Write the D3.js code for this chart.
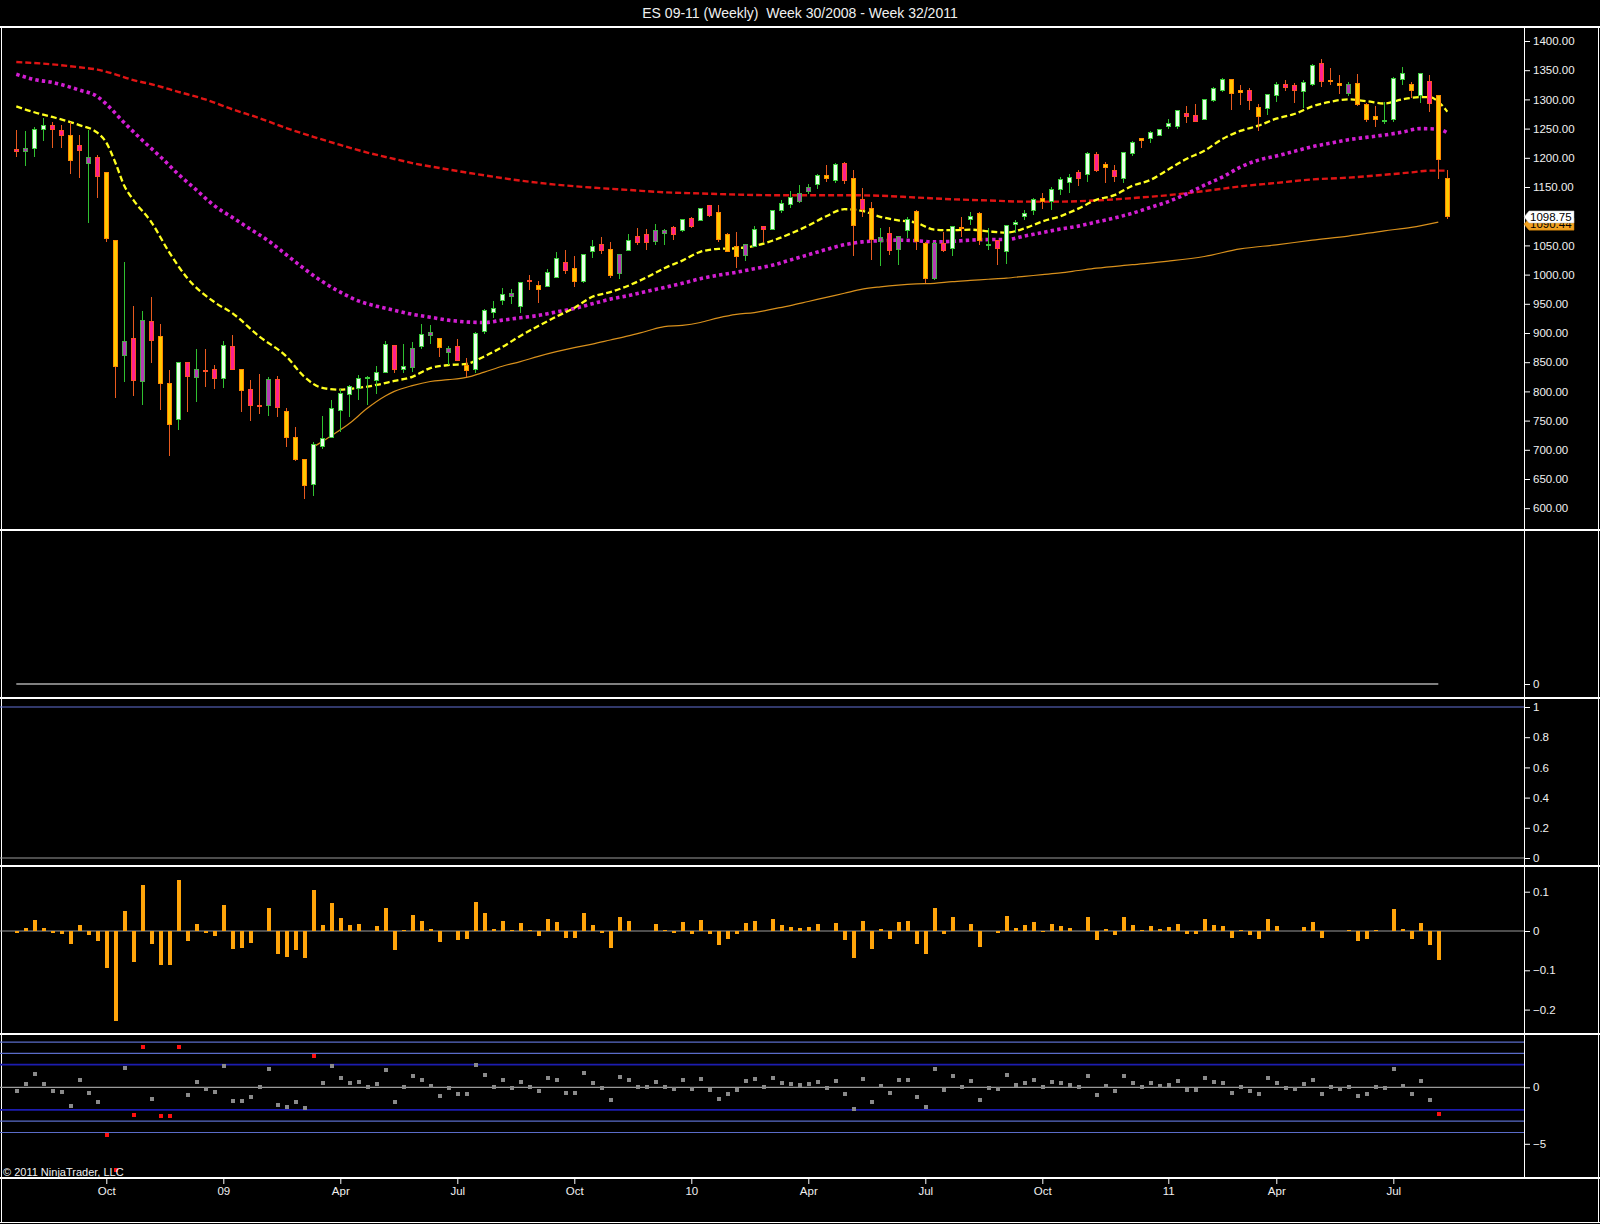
<!DOCTYPE html>
<html>
<head>
<meta charset="utf-8">
<script src="https://cdn.jsdelivr.net/npm/d3@7"></script>
<style>
  body { margin: 0; background: #000; }
  text { font-family: "Liberation Sans", Arial, sans-serif; }
</style>
</head>
<body>
<div id="chart"></div>
<script>
// ES 09-11 weekly chart
var svgWidth = 1600;
var svgHeight = 1224;

// weekly bars, index 0 = week 30/2008
var opens = [1215,1210,1216,1248,1256,1247,1239,1221,1190,1200,
  1175,1058,861,891,817,919,894,814,752,850,
  823,836,838,822,877,838,804,776,776,821,
  766,721,684,641,705,721,768,795,805,822,
  818,833,878,837,841,877,896,890,867,877,
  845,838,902,935,956,962,946,990,981,979,
  995,1021,1011,989,1039,1052,1043,1002,1041,1066,
  1069,1056,1071,1081,1075,1096,1092,1119,1107,1069,
  1048,1032,1048,1082,1078,1109,1120,1126,1142,1155,
  1169,1161,1191,1165,1129,1114,1056,1070,1043,1075,
  1108,1054,993,1054,1045,1081,1094,1105,1050,1058,
  1039,1086,1100,1109,1131,1125,1146,1157,1174,1172,
  1205,1188,1179,1165,1207,1233,1233,1238,1253,1253,
  1276,1272,1266,1298,1316,1334,1316,1316,1286,1284,
  1306,1326,1323,1313,1326,1361,1333,1328,1310,1328,
  1292,1270,1263,1265,1334,1325,1306,1330,1306,1165];
var highs = [1248,1246,1253,1269,1262,1256,1262,1239,1248,1205,
  1176,1058,1021,946,938,962,915,837,850,850,
  873,873,845,887,897,838,820,829,825,826,
  771,739,684,714,758,786,804,811,828,826,
  843,887,879,881,884,915,914,890,878,890,
  857,902,941,954,977,975,987,1000,989,1009,
  1038,1042,1032,1035,1059,1064,1055,1036,1070,1079,
  1078,1087,1078,1083,1095,1099,1114,1119,1119,1072,
  1073,1051,1083,1082,1111,1127,1143,1153,1155,1172,
  1188,1191,1193,1179,1148,1125,1080,1082,1066,1098,
  1111,1056,1056,1073,1083,1098,1108,1108,1079,1058,
  1085,1094,1111,1131,1140,1150,1167,1172,1179,1210,
  1210,1192,1188,1210,1228,1233,1246,1249,1266,1281,
  1288,1292,1300,1321,1336,1334,1325,1319,1292,1310,
  1329,1333,1328,1334,1361,1370,1353,1342,1329,1343,
  1293,1289,1296,1339,1356,1330,1345,1342,1308,1179];
var lows = [1201,1186,1202,1229,1216,1217,1172,1166,1089,1132,
  1056,788,816,792,777,848,768,690,734,765,
  781,808,804,805,837,765,749,761,758,757,
  704,681,616,621,701,721,731,757,786,777,
  795,833,832,831,833,872,881,859,845,853,
  825,831,898,925,948,950,935,974,952,979,
  995,1001,979,986,1029,1036,995,992,1041,1051,
  1042,1051,1051,1059,1073,1080,1091,1099,1056,1039,
  1012,1023,1048,1055,1076,1105,1114,1123,1138,1147,
  1159,1156,1155,1031,1098,1025,1014,1034,1016,1062,
  1042,985,991,1039,1032,1065,1085,1051,1042,1016,
  1019,1071,1094,1102,1112,1111,1136,1140,1152,1159,
  1176,1156,1159,1157,1203,1217,1226,1238,1249,1249,
  1259,1262,1264,1296,1313,1282,1290,1282,1246,1273,
  1296,1315,1294,1286,1323,1321,1325,1310,1305,1289,
  1262,1253,1258,1262,1325,1302,1293,1279,1163,1095];
var closes = [1210,1216,1249,1256,1249,1238,1195,1212,1201,1168,
  1061,842,886,818,921,888,814,744,849,825,
  838,835,822,879,837,801,776,775,821,772,
  721,684,639,709,720,771,797,809,822,823,
  833,881,838,842,874,898,901,876,873,853,
  835,899,939,942,966,968,987,989,975,1004,
  1027,1007,988,1035,1048,1042,998,1034,1058,1055,
  1055,1075,1076,1068,1094,1083,1114,1102,1060,1039,
  1031,1051,1078,1078,1109,1122,1132,1139,1150,1170,
  1165,1189,1161,1084,1112,1060,1064,1041,1066,1094,
  1056,994,1054,1042,1082,1079,1100,1058,1051,1044,
  1084,1090,1105,1129,1126,1146,1162,1167,1165,1208,
  1179,1184,1168,1209,1227,1229,1244,1249,1259,1281,
  1270,1262,1299,1319,1334,1310,1311,1298,1270,1308,
  1325,1320,1315,1329,1358,1330,1330,1324,1326,1292,
  1265,1266,1264,1336,1344,1315,1344,1293,1197,1098.75];
// u = up white, m = up magenta, d = down yellow, p = down pink
var barColors = ("pmuuppdpmp" + "ddmpmpddup" + "mppupdppmp" + "ddduuuuuuu" +
  "uupumumdmp" + "duuuumupdu" + "upduupdmup" + "pmmpupupdd" +
  "dmupuuummu" + "dupdpdmpmu" + "ddmpududup" + "uuuuduuupu" +
  "pdpuuduuuu" + "ppuuuddpdu" + "uppuupddmd" + "dduuudupdd").split("");

// moving averages: [bar index, price]
var fastMA = [[0,1288],[2,1278],[4,1270],[7,1256],[9,1243],[10,1226],[11,1192],[12,1152],[13,1128],
  [15,1090],[17,1038],[19,994],[22,953],[24,934],[27,894],[30,860],[32,825],[34,806],[36,803],
  [38,806],[40,811],[42,818],[44,825],[46,840],[48,845],[50,847],[52,860],[54,876],[56,895],
  [58,912],[60,928],[62,943],[64,962],[66,970],[68,981],[70,995],[72,1011],[74,1024],[76,1039],
  [78,1044],[80,1045],[82,1049],[84,1058],[86,1070],[88,1084],[90,1100],[92,1112],[94,1109],
  [96,1099],[98,1093],[100,1089],[102,1077],[104,1076],[106,1077],[108,1074],[110,1072],
  [112,1079],[114,1091],[116,1100],[118,1113],[120,1128],[122,1136],[124,1152],[126,1162],
  [128,1180],[130,1198],[132,1212],[134,1232],[136,1246],[138,1255],[140,1267],[142,1275],
  [144,1288],[146,1296],[148,1300],[150,1297],[152,1293],[154,1300],[156,1304],[157,1304],
  [158,1296],[159,1279]];
var midMA = [[0,1343],[2,1334],[4,1329],[7,1316],[9,1305],[10,1292],[12,1260],[14,1230],[16,1202],
  [18,1172],[20,1145],[22,1118],[24,1098],[26,1078],[28,1058],[30,1034],[32,1010],[34,988],
  [36,970],[38,955],[40,946],[42,939],[44,932],[46,927],[48,922],[50,919],[52,918],[54,922],
  [56,926],[58,930],[60,936],[62,942],[64,950],[66,958],[68,964],[70,971],[72,978],[74,985],
  [76,993],[78,999],[80,1004],[82,1010],[84,1016],[86,1025],[88,1034],[90,1043],[92,1051],
  [94,1056],[96,1058],[98,1059],[100,1058],[102,1056],[104,1057],[106,1059],[108,1060],
  [110,1060],[112,1066],[114,1072],[116,1078],[118,1083],[120,1090],[122,1097],[124,1105],
  [126,1115],[128,1125],[130,1138],[132,1153],[134,1167],[136,1184],[138,1196],[140,1203],
  [142,1211],[144,1219],[146,1225],[148,1231],[150,1235],[152,1239],[154,1244],[156,1250],
  [158,1249],[159,1243]];
var slowMA = [[0,1364],[4,1360],[7,1355],[9,1351],[11,1343],[13,1333],[15,1326],[18,1313],[21,1300],
  [24,1283],[27,1268],[30,1251],[33,1236],[36,1222],[39,1209],[42,1198],[44,1191],[48,1180],
  [52,1170],[56,1161],[60,1154],[64,1149],[68,1145],[72,1141],[76,1139],[80,1137],[84,1136],
  [88,1136],[92,1136],[96,1135],[100,1132],[104,1129],[108,1127],[112,1125],[116,1125],
  [120,1127],[124,1131],[128,1136],[132,1143],[136,1151],[140,1157],[144,1163],[148,1166],
  [152,1171],[155,1175],[157,1178],[159,1178]];
var baseMA = [[33,705],[34,714],[35,724],[37,745],[39,771],[41,792],[42,800],[44,810],[46,817],
  [48,820],[50,824],[52,833],[54,843],[56,851],[58,860],[60,868],[62,875],[64,881],[66,888],
  [68,895],[70,903],[72,911],[74,913],[76,918],[78,926],[80,932],[82,935],[84,941],[86,947],
  [88,954],[90,961],[92,968],[94,975],[96,979],[98,982],[100,984],[102,985],[104,988],
  [106,990],[108,992],[110,994],[112,997],[114,1000],[116,1003],[118,1007],[120,1011],
  [124,1017],[128,1023],[132,1031],[136,1044],[140,1051],[144,1059],[148,1066],[152,1075],
  [155,1081],[158,1090]];

// weekly change panel
var weeklyChange = [-0.004,0.008,0.028,0.008,-0.004,-0.007,-0.033,0.015,-0.010,-0.025,
  -0.094,-0.228,0.051,-0.079,0.118,-0.033,-0.087,-0.087,0.131,-0.025,
  0.018,-0.004,-0.013,0.067,-0.046,-0.044,-0.030,0.000,0.059,-0.059,
  -0.066,-0.049,-0.069,0.105,0.015,0.072,0.033,0.015,0.018,0.001,
  0.013,0.059,-0.049,0.003,0.041,0.026,0.005,-0.028,0.000,-0.023,
  -0.021,0.074,0.047,0.005,0.026,0.003,0.021,0.003,-0.013,0.031,
  0.023,-0.017,-0.017,0.046,0.015,-0.004,-0.043,0.036,0.026,-0.001,
  0.000,0.018,0.003,-0.004,0.023,-0.007,0.028,-0.007,-0.036,-0.021,
  -0.007,0.021,0.026,0.000,0.031,0.015,0.010,0.008,0.010,0.018,
  -0.001,0.021,-0.023,-0.068,0.026,-0.045,0.005,-0.021,0.023,0.026,
  -0.033,-0.059,0.059,-0.007,0.036,0.000,0.018,-0.041,0.000,-0.004,
  0.038,0.008,0.015,0.023,-0.003,0.018,0.013,0.008,-0.001,0.036,
  -0.022,0.005,-0.009,0.036,0.015,0.003,0.013,0.005,0.010,0.018,
  -0.007,-0.007,0.031,0.015,0.013,-0.017,0.003,-0.009,-0.020,0.031,
  0.013,-0.001,-0.001,0.010,0.023,-0.017,0.000,0.000,0.003,-0.025,
  -0.020,0.003,0.000,0.056,0.005,-0.020,0.021,-0.035,-0.074];

// standardised change panel
var zScores = [-0.3,0.27,1.22,0.27,-0.3,-0.39,-1.63,0.68,-0.48,-1.28,
  -4.2,-7.3,1.67,-2.44,3.54,-1.0,-2.53,-2.53,3.54,-0.65,
  0.51,-0.12,-0.39,1.85,-1.19,-1.19,-0.83,0.06,1.58,-1.54,
  -1.72,-1.28,-1.81,2.74,0.42,1.85,0.86,0.42,0.51,0.06,
  0.33,1.49,-1.28,0.06,1.04,0.68,0.15,-0.74,-0.03,-0.56,
  -0.56,1.94,1.13,0.06,0.68,-0.03,0.51,0.06,-0.36,0.80,
  0.63,-0.54,-0.54,1.25,0.36,-0.09,-1.16,0.89,0.63,0,
  0,0.45,0,-0.18,0.63,-0.18,0.71,-0.27,-1.07,-0.63,
  -0.27,0.54,0.71,0,0.80,0.36,0.27,0.18,0.27,0.45,
  -0.09,0.54,-0.63,-1.96,0.71,-1.34,0.09,-0.54,0.63,0.63,
  -0.89,-1.70,1.61,-0.27,0.98,0,0.54,-1.16,-0.09,-0.18,
  1.07,0.18,0.36,0.63,0,0.45,0.36,0.18,0,0.98,
  -0.71,0.09,-0.36,0.98,0.36,0,0.36,0.09,0.18,0.54,
  -0.27,-0.27,0.80,0.45,0.36,-0.54,0,-0.36,-0.63,0.80,
  0.36,-0.09,-0.18,0.27,0.63,-0.63,0,-0.18,0,-0.80,
  -0.63,0,-0.09,1.61,0.09,-0.63,0.54,-1.16,-2.32];
var bandLevels = [4, 3, 2, -2, -3, -4];

var xTickIdx = [10, 23, 36, 49, 62, 75, 88, 101, 114, 128, 140, 153];
var xTickLabels = ["Oct", "09", "Apr", "Jul", "Oct", "10", "Apr", "Jul", "Oct", "11", "Apr", "Jul"];
var priceTicks = d3.range(600, 1401, 50);
var lastPrice = 1098.75;

var axisX = 1524;

var svg = d3.select("#chart")
  .append("svg")
  .attr("width", svgWidth)
  .attr("height", svgHeight)
  .style("background", "#000");

// scales
var xScale = d3.scaleLinear().domain([0, 159]).range([16.3, 1447.3]);
var yPrice = d3.scaleLinear().domain([600, 1400]).range([508.2, 41]);
var yPanel2 = d3.scaleLinear().domain([0, 1]).range([684, 600]);
var yPanel3 = d3.scaleLinear().domain([0, 1]).range([858, 707]);
var yChange = d3.scaleLinear().domain([-0.2, 0.1]).range([1009.6, 891.7]);
var yZ = d3.scaleLinear().domain([-5, 0]).range([1143.8, 1087.3]);

// title
svg.append("text")
  .attr("x", 800)
  .attr("y", 18)
  .attr("text-anchor", "middle")
  .attr("fill", "#f0f0f0")
  .style("font-size", "14px")
  .style("white-space", "pre")
  .text("ES 09-11 (Weekly)  Week 30/2008 - Week 32/2011");

// panel frames
var frame = svg.append("g").attr("stroke", "#ffffff").attr("shape-rendering", "crispEdges");
[27, 530, 698, 866, 1034, 1178].forEach(function (y) {
  frame.append("line").attr("x1", 0).attr("x2", svgWidth).attr("y1", y).attr("y2", y).attr("stroke-width", 1.5);
});
frame.append("line").attr("x1", 1).attr("x2", 1).attr("y1", 27).attr("y2", 1222);
frame.append("line").attr("x1", 1598).attr("x2", 1598).attr("y1", 27).attr("y2", 1222);
frame.append("line").attr("x1", 0).attr("x2", svgWidth).attr("y1", 1222).attr("y2", 1222);
frame.append("line").attr("x1", axisX).attr("x2", axisX).attr("y1", 27).attr("y2", 1178);

// ---------- price panel ----------
var priceGroup = svg.append("g");

function maLine(points) {
  return d3.line()
    .x(function (d) { return xScale(d[0]); })
    .y(function (d) { return yPrice(d[1]); })
    .curve(d3.curveMonotoneX)(points);
}

priceGroup.append("path")
  .attr("d", maLine(baseMA))
  .attr("fill", "none")
  .attr("stroke", "#d8901c")
  .attr("stroke-width", 1.2);

priceGroup.append("path")
  .attr("d", maLine(slowMA))
  .attr("fill", "none")
  .attr("stroke", "#e01414")
  .attr("stroke-width", 2.4)
  .attr("stroke-dasharray", "6,3");

priceGroup.append("path")
  .attr("d", maLine(midMA))
  .attr("fill", "none")
  .attr("stroke", "#d21ed2")
  .attr("stroke-width", 3.6)
  .attr("stroke-dasharray", "3.4,3.2");

priceGroup.append("path")
  .attr("d", maLine(fastMA))
  .attr("fill", "none")
  .attr("stroke", "#ffff1e")
  .attr("stroke-width", 2.3)
  .attr("stroke-dasharray", "6,3");

var bodyFill = { u: "#eaffea", m: "#b43cb4", d: "#ffc800", p: "#ff2090" };
var bodyStroke = { u: "#3ccc3c", m: "#4caa4c", d: "#ff8a00", p: "#ff5028" };
var wickStroke = { u: "#30c030", m: "#30c030", d: "#e85a1e", p: "#e85a1e" };

var candles = priceGroup.selectAll("g.candle")
  .data(d3.range(opens.length))
  .enter()
  .append("g")
  .attr("class", "candle")
  .attr("shape-rendering", "crispEdges");

candles.append("line")
  .attr("x1", function (i) { return Math.round(xScale(i)) + 0.5; })
  .attr("x2", function (i) { return Math.round(xScale(i)) + 0.5; })
  .attr("y1", function (i) { return yPrice(highs[i]); })
  .attr("y2", function (i) { return yPrice(lows[i]); })
  .attr("stroke", function (i) { return wickStroke[barColors[i]]; })
  .attr("stroke-width", 1);

candles.append("rect")
  .attr("x", function (i) { return Math.round(xScale(i)) - 1.5; })
  .attr("width", 4)
  .attr("y", function (i) { return yPrice(Math.max(opens[i], closes[i])); })
  .attr("height", function (i) { return Math.max(1, Math.abs(yPrice(opens[i]) - yPrice(closes[i]))); })
  .attr("fill", function (i) { return bodyFill[barColors[i]]; })
  .attr("stroke", function (i) { return bodyStroke[barColors[i]]; })
  .attr("stroke-width", 1);

// price axis
svg.append("g")
  .attr("transform", `translate(${axisX},0)`)
  .call(d3.axisRight(yPrice).tickValues(priceTicks).tickSize(6).tickPadding(3).tickFormat(d3.format(".2f")));

// last price markers (the orange one sits partly under the white one, as on the original)
var baseLast = baseMA[baseMA.length - 1][1];
function priceMarker(value, fill, label) {
  var y = yPrice(value);
  var g = svg.append("g");
  g.append("path")
    .attr("d", `M${axisX},${y} L${axisX + 5},${y - 6} L${axisX + 50},${y - 6} L${axisX + 50},${y + 6} L${axisX + 5},${y + 6} Z`)
    .attr("fill", fill)
    .attr("stroke", fill === "#ffffff" ? "#bbbbbb" : "#d08000")
    .attr("stroke-width", 0.5);
  g.append("text")
    .attr("x", axisX + 6)
    .attr("y", y + 4)
    .attr("fill", "#000")
    .style("font-size", "11.5px")
    .text(label);
}
priceMarker(baseLast - 3.6, "#f0a020", d3.format(".2f")(baseLast + 0.44));
priceMarker(lastPrice, "#ffffff", d3.format(".2f")(lastPrice));

// ---------- panel 2 ----------
svg.append("line")
  .attr("x1", xScale(0))
  .attr("x2", xScale(158))
  .attr("y1", yPanel2(0))
  .attr("y2", yPanel2(0))
  .attr("stroke", "#ffffff")
  .attr("stroke-width", 1.2);
svg.append("g")
  .attr("transform", `translate(${axisX},0)`)
  .call(d3.axisRight(yPanel2).tickValues([0]).tickSize(6).tickPadding(3).tickFormat(d3.format("d")));

// ---------- panel 3 ----------
svg.append("line")
  .attr("x1", 0).attr("x2", axisX)
  .attr("y1", yPanel3(1)).attr("y2", yPanel3(1))
  .attr("stroke", "#6270d4").attr("stroke-width", 1.2);
svg.append("line")
  .attr("x1", 0).attr("x2", axisX)
  .attr("y1", yPanel3(0)).attr("y2", yPanel3(0))
  .attr("stroke", "#9a9a9a").attr("stroke-width", 1.2);
svg.append("g")
  .attr("transform", `translate(${axisX},0)`)
  .call(d3.axisRight(yPanel3).tickValues([0, 0.2, 0.4, 0.6, 0.8, 1]).tickSize(6).tickPadding(3).tickFormat(d3.format("")));

// ---------- panel 4: weekly change ----------
svg.append("line")
  .attr("x1", 0).attr("x2", axisX)
  .attr("y1", yChange(0)).attr("y2", yChange(0))
  .attr("stroke", "#9a9a9a").attr("stroke-width", 1.2);
svg.append("g")
  .attr("shape-rendering", "crispEdges")
  .selectAll("rect")
  .data(weeklyChange)
  .enter()
  .append("rect")
  .attr("x", function (d, i) { return Math.round(xScale(i)) - 1.5; })
  .attr("width", 4)
  .attr("y", function (d) { return yChange(Math.max(0, d)); })
  .attr("height", function (d) { return Math.abs(yChange(d) - yChange(0)); })
  .attr("fill", "#ffa40a");
svg.append("g")
  .attr("transform", `translate(${axisX},0)`)
  .call(d3.axisRight(yChange).tickValues([-0.2, -0.1, 0, 0.1]).tickSize(6).tickPadding(3).tickFormat(d3.format("")));

// ---------- panel 5: z-scores ----------
bandLevels.forEach(function (lvl) {
  svg.append("line")
    .attr("x1", 0).attr("x2", axisX)
    .attr("y1", yZ(lvl)).attr("y2", yZ(lvl))
    .attr("stroke", Math.abs(lvl) === 2 ? "#1c1cb0" : "#5a6cc8")
    .attr("stroke-width", Math.abs(lvl) === 2 ? 1.8 : 1.2);
});
svg.append("line")
  .attr("x1", 0).attr("x2", axisX)
  .attr("y1", yZ(0)).attr("y2", yZ(0))
  .attr("stroke", "#9a9a9a").attr("stroke-width", 1.2);
svg.append("g")
  .attr("shape-rendering", "crispEdges")
  .selectAll("rect")
  .data(zScores)
  .enter()
  .append("rect")
  .attr("x", function (d, i) { return Math.round(xScale(i)) - 1.5; })
  .attr("y", function (d) { return yZ(d) - 2; })
  .attr("width", 4)
  .attr("height", 4)
  .attr("fill", function (d) { return Math.abs(d) > 2 ? "#ff1010" : "#8a8a8a"; });
svg.append("g")
  .attr("transform", `translate(${axisX},0)`)
  .call(d3.axisRight(yZ).tickValues([-5, 0]).tickSize(6).tickPadding(3).tickFormat(d3.format("d")));

svg.append("text")
  .attr("x", 3)
  .attr("y", 1176)
  .attr("fill", "#f0f0f0")
  .style("font-size", "11px")
  .text("\u00a9 2011 NinjaTrader, LLC");

// ---------- time axis ----------
svg.append("g")
  .attr("transform", "translate(0,1178)")
  .call(d3.axisBottom(xScale)
    .tickValues(xTickIdx)
    .tickSize(6)
    .tickPadding(3)
    .tickFormat(function (d, i) { return xTickLabels[i]; }));

// axis styling
svg.selectAll(".domain").remove();
svg.selectAll(".tick line").attr("stroke", "#ffffff");
svg.selectAll(".tick text")
  .attr("fill", "#f0f0f0")
  .style("font-family", "'Liberation Sans', Arial, sans-serif")
  .style("font-size", "11.5px");
</script>
</body>
</html>
